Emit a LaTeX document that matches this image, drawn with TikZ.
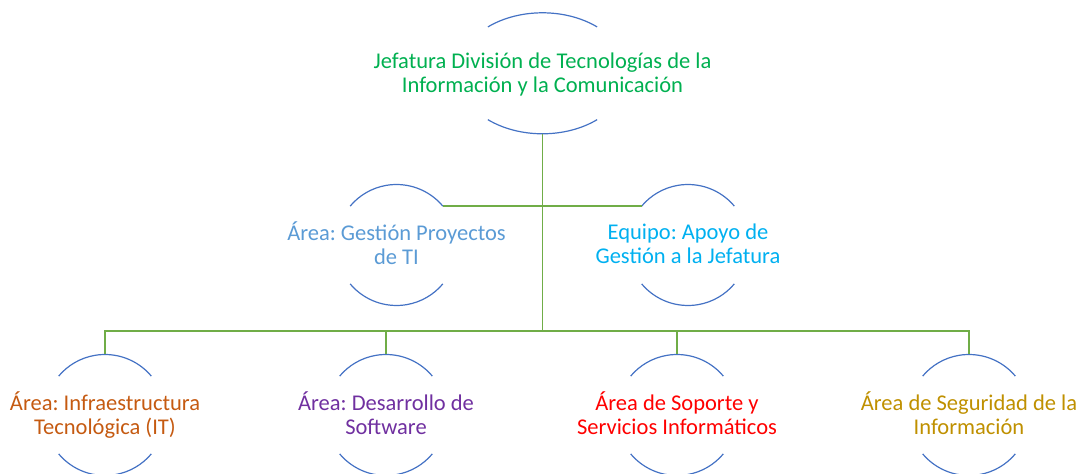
\documentclass[tikz,border=0pt]{standalone}
\usepackage{fontspec}
\setmainfont{Carlito}
\frenchspacing
\definecolor{arcblue}{HTML}{4472C4}
\definecolor{conngreen}{HTML}{70AD47}
\definecolor{cRoot}{HTML}{00B050}
\definecolor{cGP}{HTML}{5B9BD5}
\definecolor{cAP}{HTML}{00B0F0}
\definecolor{cInf}{HTML}{C55A11}
\definecolor{cDes}{HTML}{7030A0}
\definecolor{cSop}{HTML}{FF0000}
\definecolor{cSeg}{HTML}{BF9000}
\begin{document}
\begin{tikzpicture}[x=1pt,y=1pt,
  arcl/.style={draw=arcblue, line width=1.2pt},
  conn/.style={draw=conngreen, line width=1.4pt},
  txt/.style={inner sep=0pt, align=center, font=\fontsize{22.5}{24}\selectfont}]
\useasboundingbox (0,0) rectangle (1080,474);
\clip (0,0) rectangle (1080,474);
% circle centres
\coordinate (rootc) at (542.5,400.7);
\coordinate (gpc) at (396.5,229);
\coordinate (apc) at (688,229);
\coordinate (infc) at (105,59);
\coordinate (desc) at (386,59);
\coordinate (sopc) at (677,59);
\coordinate (segc) at (969,59);
% texts
\node[txt, text=cRoot] (root) at ([yshift=-2pt]rootc) {\strut Jefatura División de Tecnologías de la\\\strut Información y la Comunicación};
\node[txt, text=cGP] (gp) at ([yshift=-2pt]gpc) {\strut Área: Gestión Proyectos\\\strut de TI};
\node[txt, text=cAP] (ap) at ([yshift=-2pt]apc) {\strut Equipo: Apoyo de\\\strut Gestión a la Jefatura};
\node[txt, text=cInf] (inf) at ([yshift=-2pt]infc) {\strut Área: Infraestructura\\\strut Tecnológica (IT)};
\node[txt, text=cDes] (des) at ([yshift=-2pt]desc) {\strut Área: Desarrollo de\\\strut Software};
\node[txt, text=cSop] (sop) at ([yshift=-2pt]sopc) {\strut Área de Soporte y\\\strut Servicios Informáticos};
\node[txt, text=cSeg] (seg) at ([yshift=-2pt]segc) {\strut Área de Seguridad de la\\\strut Información};
% arcs
\draw[arcl] ([shift={(50:85 and 60.5)}]rootc) arc[start angle=50,end angle=130,x radius=85,y radius=60.5];
\draw[arcl] ([shift={(230:85 and 60.5)}]rootc) arc[start angle=230,end angle=310,x radius=85,y radius=60.5];
\foreach \n in {gpc,apc,infc,desc,sopc,segc}{
  \draw[arcl] ([shift={(40:60.5)}]\n) arc[start angle=40,end angle=140,radius=60.5];
  \draw[arcl] ([shift={(220:60.5)}]\n) arc[start angle=220,end angle=320,radius=60.5];
}
% connectors
\coordinate (rootb) at ([yshift=-60.5pt]rootc);
\coordinate (bus) at (0,143);
\coordinate (infT) at ([yshift=60.5pt]infc);
\coordinate (desT) at ([yshift=60.5pt]desc);
\coordinate (sopT) at ([yshift=60.5pt]sopc);
\coordinate (segT) at ([yshift=60.5pt]segc);
\coordinate (gpR) at ([shift={(40:60.5)}]gpc);
\coordinate (apL) at ([shift={(140:60.5)}]apc);
\draw[conn] (rootb) -- (rootb |- bus);
\draw[conn] (infT) -- (infT |- bus) -- (segT |- bus) -- (segT);
\draw[conn] (desT) -- (desT |- bus);
\draw[conn] (sopT) -- (sopT |- bus);
\draw[conn] (gpR) -- (apL);
\end{tikzpicture}
\end{document}
